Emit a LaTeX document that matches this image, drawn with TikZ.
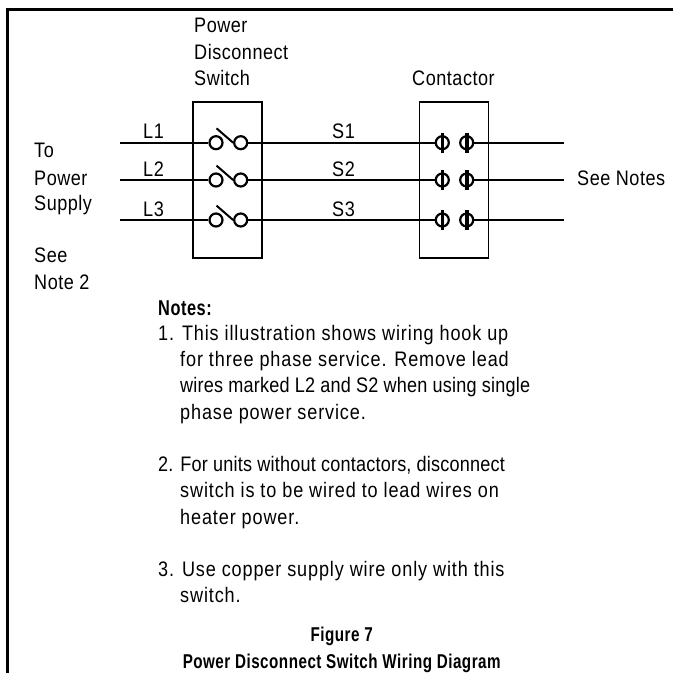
\documentclass[tikz,border=0pt]{standalone}
\usepackage{fontspec}
\usepackage{xcolor}
\usepackage{tikz}
\setmainfont[FakeStretch=0.86,LetterSpace=2.5]{Liberation Sans}
\newfontfamily\notefont[FakeStretch=0.86,LetterSpace=4.2]{Liberation Sans}
\newfontfamily\tightfont[FakeStretch=0.86,LetterSpace=1]{Liberation Sans}
\newfontfamily\headfont[FakeStretch=0.76,LetterSpace=2.5]{Liberation Sans}
\tikzset{
    txt/.style={anchor=base west,inner sep=0pt,font=\fontsize{21}{26}\selectfont},
    note/.style={anchor=base west,inner sep=0pt,font=\notefont\fontsize{21}{26}\selectfont},
    tight/.style={anchor=base west,inner sep=0pt,font=\tightfont\fontsize{21}{26}\selectfont},
    head/.style={anchor=base,inner sep=0pt,font=\headfont\fontsize{20}{26}\selectfont\bfseries},
    panel/.style={draw,line width=1.8pt,minimum width=69pt,minimum height=156pt,inner sep=0pt},
    wire/.style={line width=2.2pt},
    contact/.style={draw,circle,line width=2.2pt,minimum size=13pt,inner sep=0pt},
    blade/.style={line width=2pt},
    bar/.style={line width=3.6pt}
}
\begin{document}
\begin{tikzpicture}[x=1pt,y=-1pt]
    \useasboundingbox (0,0) rectangle (673,673);
    % frame
    \coordinate (fa) at (7.5,673);
    \coordinate (fb) at (7.5,9.5);
    \coordinate (fc) at (673,9.5);
    \draw[line width=3pt,line cap=rect] (fa) -- (fb) -- (fc);

    \node[panel] (sw) at (227.7,180) {};
    \node[panel] (ct) at (454,180) {};

    \coordinate (l1) at (120,142.7);
    \coordinate (l2) at (120,180);
    \coordinate (l3) at (120,220);
    \coordinate (e1) at (564,142.7);
    \coordinate (e2) at (564,180);
    \coordinate (e3) at (564,220);

    \node[contact] (a1) at (216,142.7) {};
    \node[contact] (a2) at (216,180) {};
    \node[contact] (a3) at (216,220) {};
    \node[contact] (b1) at (240.7,142.7) {};
    \node[contact] (b2) at (240.7,180) {};
    \node[contact] (b3) at (240.7,220) {};
    \node[contact] (c1) at (442.3,142.7) {};
    \node[contact] (c2) at (442.3,180) {};
    \node[contact] (c3) at (442.3,220) {};
    \node[contact] (d1) at (466.7,142.7) {};
    \node[contact] (d2) at (466.7,180) {};
    \node[contact] (d3) at (466.7,220) {};

    \draw[wire] (l1) -- (a1);
    \draw[wire] (l2) -- (a2);
    \draw[wire] (l3) -- (a3);
    \draw[wire] (b1) -- (c1);
    \draw[wire] (b2) -- (c2);
    \draw[wire] (b3) -- (c3);
    \draw[wire] (d1) -- (e1);
    \draw[wire] (d2) -- (e2);
    \draw[wire] (d3) -- (e3);

    % switch blades
    \coordinate (p1) at (216.5,128.3);
    \coordinate (p2) at (216.5,165.6);
    \coordinate (p3) at (216.5,205.6);
    \draw[blade] (p1) -- (b1.west);
    \draw[blade] (p2) -- (b2.west);
    \draw[blade] (p3) -- (b3.west);

    % contactor bars
    \draw[bar] ([yshift=10pt]c1.center) -- ([yshift=-10pt]c1.center);
    \draw[bar] ([yshift=10pt]c2.center) -- ([yshift=-10pt]c2.center);
    \draw[bar] ([yshift=10pt]c3.center) -- ([yshift=-10pt]c3.center);
    \draw[bar] ([yshift=10pt]d1.center) -- ([yshift=-10pt]d1.center);
    \draw[bar] ([yshift=10pt]d2.center) -- ([yshift=-10pt]d2.center);
    \draw[bar] ([yshift=10pt]d3.center) -- ([yshift=-10pt]d3.center);

    % labels
    \node[txt] (t1) at (194,32.7) {Power};
    \node[txt] (t2) at (194,59.3) {Disconnect};
    \node[txt] (t3) at (194,85) {Switch};
    \node[txt] (t4) at (412,85) {Contactor};
    \node[txt] (n1) at (143,138) {L1};
    \node[txt] (n2) at (143,176.7) {L2};
    \node[txt] (n3) at (143,216.7) {L3};
    \node[txt] (s1) at (332,138) {S1};
    \node[txt] (s2) at (332,176.7) {S2};
    \node[txt] (s3) at (332,216.7) {S3};
    \node[txt] (r1) at (577,185) {See Notes};
    \node[txt] (m1) at (34,157.7) {To};
    \node[txt] (m2) at (34,185) {Power};
    \node[txt] (m3) at (34,210) {Supply};
    \node[txt] (m4) at (34,262.7) {See};
    \node[txt] (m5) at (34,289) {Note 2};

    % notes
    \node[note,font=\headfont\fontsize{21.5}{26}\selectfont\bfseries] (h0) at (158,315) {Notes:};
    \node[note] (h1) at (158,340) {1. This illustration shows wiring hook up};
    \node[note] (h2) at (180,366.7) {for three phase service. Remove lead};
    \node[tight] (h3) at (180,392.7) {wires marked L2 and S2 when using single};
    \node[note] (h4) at (180,419) {phase power service.};
    \node[tight] (h5) at (158,471) {2. For units without contactors, disconnect};
    \node[note] (h6) at (180,497.3) {switch is to be wired to lead wires on};
    \node[note] (h7) at (180,524.3) {heater power.};
    \node[note] (h8) at (158,576.7) {3. Use copper supply wire only with this};
    \node[note] (h9) at (180,602.7) {switch.};

    \node[head] (f1) at (341.7,641) {Figure 7};
    \node[head] (f2) at (341.7,668) {Power Disconnect Switch Wiring Diagram};
\end{tikzpicture}
\end{document}
